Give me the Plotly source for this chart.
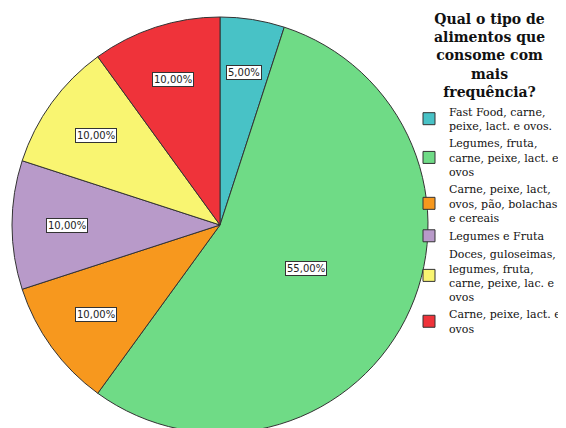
import math
import plotly.graph_objects as go

# data
categories = [
    "Fast Food, carne,<br>peixe, lact. e ovos.",
    "Legumes, fruta,<br>carne, peixe, lact. e<br>ovos",
    "Carne, peixe, lact,<br>ovos, pão, bolachas<br>e cereais",
    "Legumes e Fruta",
    "Doces, guloseimas,<br>legumes, fruta,<br>carne, peixe, lac. e<br>ovos",
    "Carne, peixe, lact. e<br>ovos",
]
percentages = [5.0, 55.0, 10.0, 10.0, 10.0, 10.0]
colors = ["#48C2C6", "#6FDB86", "#F7981E", "#B89AC9", "#F9F571", "#EF333A"]
legend_title = "<b>Qual o tipo de<br>alimentos que<br>consome com<br>mais<br>frequência?</b>"

W, H = 566, 428
cx, cy, R = 212, 217, 208  # pie centre / radius in figure pixels

fig = go.Figure(go.Pie(
    labels=categories,
    values=percentages,
    sort=False,
    direction="clockwise",
    rotation=0,
    textinfo="none",
    hoverinfo="label+percent",
    marker=dict(colors=colors, line=dict(color="#333333", width=1)),
    domain=dict(x=[(cx - R) / W, (cx + R) / W], y=[(H - cy - R) / H, (H - cy + R) / H]),
))

# boxed percentage labels placed near the centroid of each slice
total = sum(percentages)
start = 0.0
for p in percentages:
    frac = p / total
    half = math.pi * frac  # half-angle in radians
    mid = 2 * math.pi * start + half
    k = 1.12 if frac < 0.5 else 1.22
    dist = k * (2 * R * math.sin(half)) / (3 * half)
    px = cx + dist * math.sin(mid)
    py = cy - dist * math.cos(mid)
    fig.add_annotation(
        x=px / W, y=1 - py / H, xref="paper", yref="paper",
        xanchor="center", yanchor="middle",
        text=f"{p:.2f}%".replace(".", ","),
        showarrow=False,
        font=dict(family="DejaVu Sans", size=10, color="#222222"),
        bgcolor="white", bordercolor="#333333", borderwidth=1, borderpad=1,
    )
    start += frac

# legend title as a centred annotation
fig.add_annotation(
    x=482 / W, y=0.998, xref="paper", yref="paper",
    xanchor="center", yanchor="top", align="center",
    text=legend_title, showarrow=False,
    font=dict(family="DejaVu Serif", size=14, color="#111111"),
)

fig.update_layout(
    width=W, height=H,
    margin=dict(l=0, r=0, t=0, b=0, autoexpand=False),
    paper_bgcolor="white",
    plot_bgcolor="white",
    font=dict(family="DejaVu Serif", color="#111111"),
    legend=dict(
        x=401 / W, xanchor="left", y=0.79, yanchor="top",
        font=dict(family="DejaVu Serif", size=11),
        itemwidth=30, tracegroupgap=0,
        bgcolor="rgba(0,0,0,0)",
    ),
)

fig.write_html("out.html")
